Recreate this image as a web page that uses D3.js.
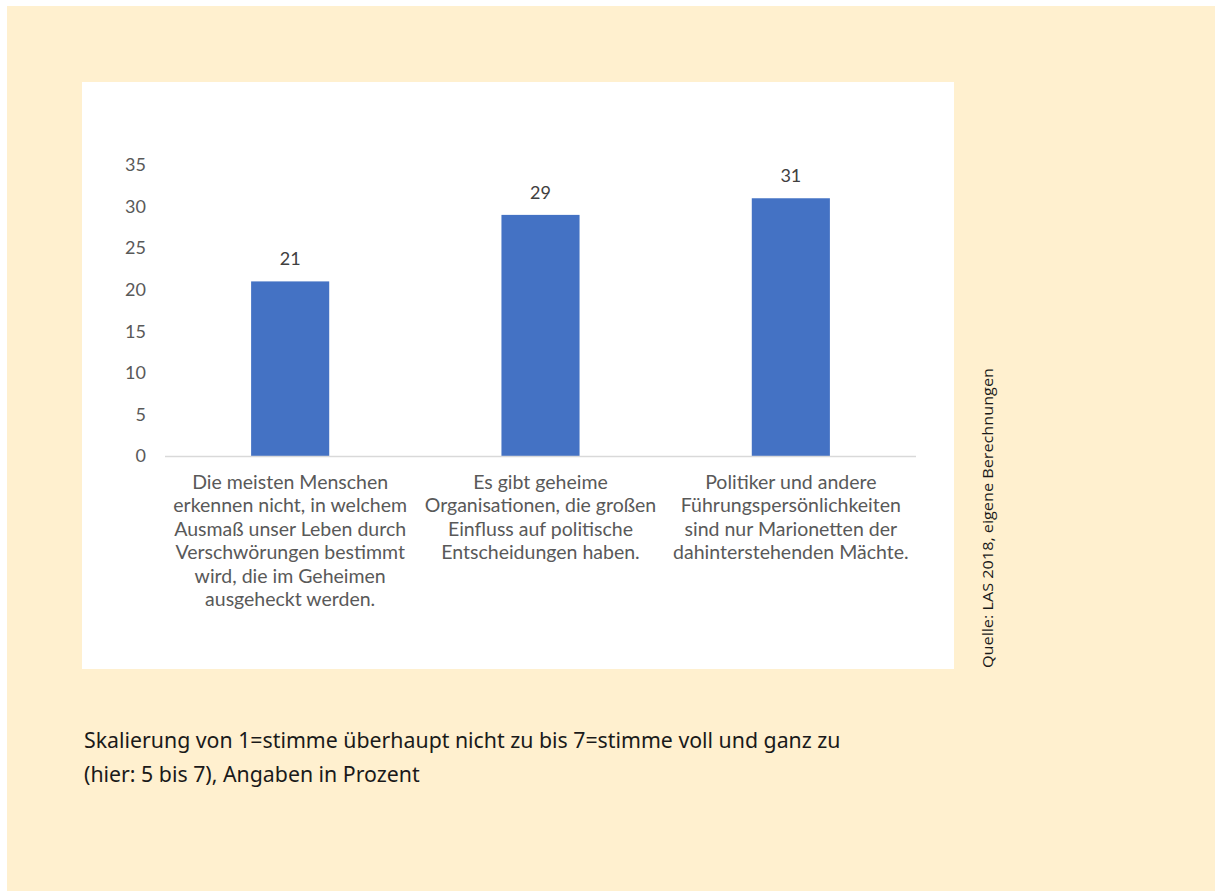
<!DOCTYPE html>
<html><head><meta charset="utf-8">
<script src="https://cdn.jsdelivr.net/npm/d3@7"></script>
<style>body{margin:0;background:#fff}svg{display:block}</style>
</head><body>
<script>
const categories = [
  ["Die meisten Menschen","erkennen nicht, in welchem","Ausmaß unser Leben durch","Verschwörungen bestimmt","wird, die im Geheimen","ausgeheckt werden."],
  ["Es gibt geheime","Organisationen, die großen","Einfluss auf politische","Entscheidungen haben."],
  ["Politiker und andere","Führungspersönlichkeiten","sind nur Marionetten der","dahinterstehenden Mächte."]
];
const values = [21, 29, 31];
const yTicks = [0, 5, 10, 15, 20, 25, 30, 35];
const sourceText = "Quelle: LAS 2018, eigene Berechnungen";
const captionLines = ["Skalierung von 1=stimme überhaupt nicht zu bis 7=stimme voll und ganz zu","(hier: 5 bis 7), Angaben in Prozent"];

const W = 1215, H = 891;
const svg = d3.select("body").append("svg").attr("width", W).attr("height", H);
svg.append("rect").attr("x",7).attr("y",6).attr("width",W-7).attr("height",H-6).attr("fill","#fff0cf");
svg.append("rect").attr("x",82).attr("y",82).attr("width",872).attr("height",587).attr("fill","#ffffff");

const x = d3.scaleBand().domain(d3.range(values.length)).range([165, 916]).paddingInner(0.688).paddingOuter(0.344);
const y = d3.scaleLinear().domain([0, 35]).range([456, 165]);
const font = "Lato, 'Open Sans', sans-serif";

// y tick labels
svg.append("g").selectAll("text").data(yTicks).join("text")
  .attr("x",146).attr("y",d=>y(d)).attr("dy","0.35em").attr("text-anchor","end")
  .attr("font-family",font).attr("font-size",18).attr("fill","#595959").text(d=>d);

// bars
svg.append("g").selectAll("rect").data(values).join("rect")
  .attr("x",(d,i)=>x(i)).attr("width",x.bandwidth())
  .attr("y",d=>y(d)).attr("height",d=>y(0)-y(d)).attr("fill","#4472c4");

// baseline
svg.append("line").attr("x1",165).attr("x2",916).attr("y1",y(0)+0.5).attr("y2",y(0)+0.5)
  .attr("stroke","#d9d9d9").attr("stroke-width",1.5);

// value labels
svg.append("g").selectAll("text").data(values).join("text")
  .attr("x",(d,i)=>x(i)+x.bandwidth()/2).attr("y",d=>y(d)-16).attr("text-anchor","middle")
  .attr("font-family",font).attr("font-size",18).attr("fill","#404040").text(d=>d);

// category labels
const cg = svg.append("g").selectAll("text").data(categories).join("text")
  .attr("text-anchor","middle").attr("font-family",font).attr("font-size",19.5).attr("fill","#595959");
cg.each(function(lines,i){
  d3.select(this).selectAll("tspan").data(lines).join("tspan")
    .attr("x",x(i)+x.bandwidth()/2).attr("y",(l,j)=>489+j*23.4).text(l=>l);
});

// source
svg.append("text").attr("transform","translate(993,668) rotate(-90)")
  .attr("font-family","'Open Sans', sans-serif").attr("font-size",14).attr("fill","#1a1a1a")
  .attr("textLength",300).attr("lengthAdjust","spacingAndGlyphs").text(sourceText);

// caption
svg.append("g").selectAll("text").data(captionLines).join("text")
  .attr("x",84).attr("y",(d,i)=>748+i*34)
  .attr("font-family","'Noto Sans', sans-serif").attr("font-size",21.3).attr("fill","#1a1a1a").text(d=>d);
</script>
</body></html>
